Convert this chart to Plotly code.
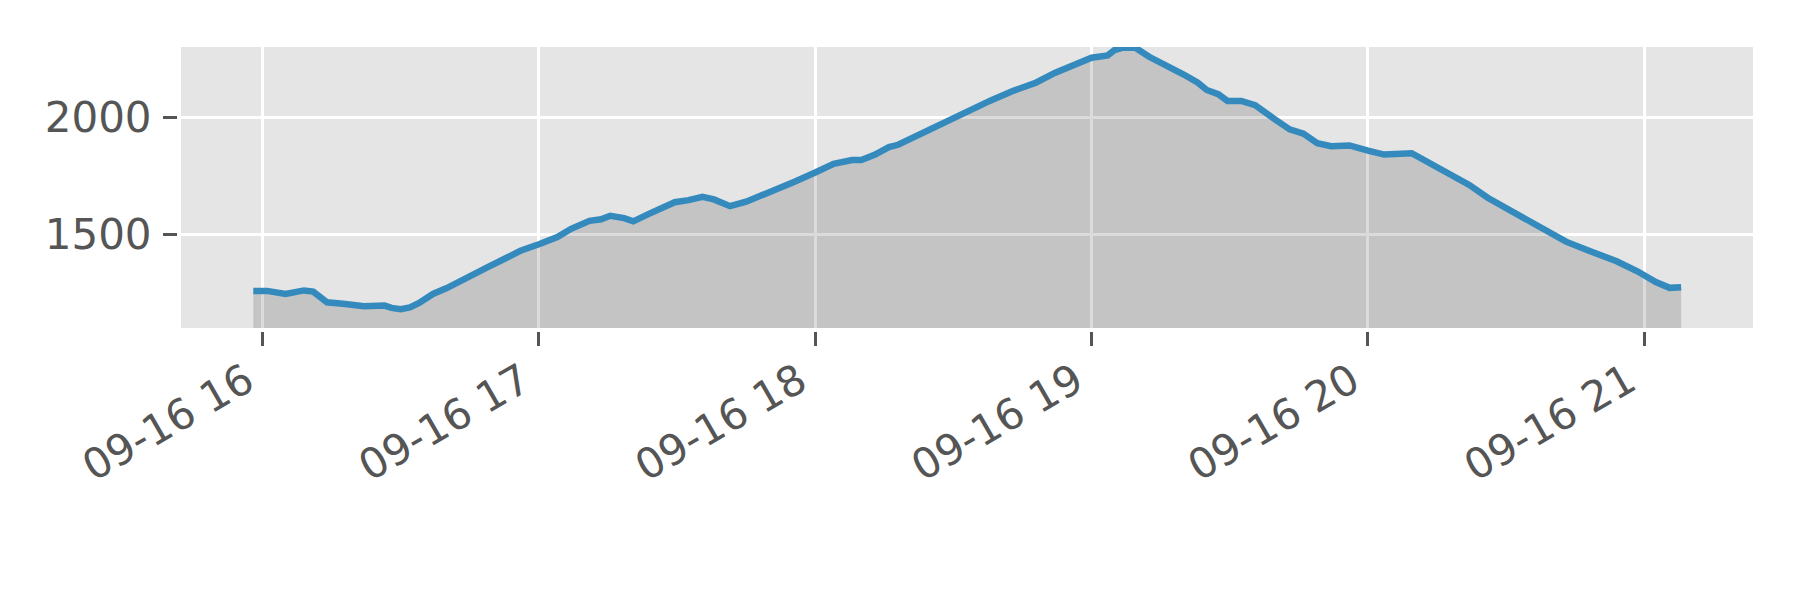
import plotly.graph_objects as go

DAY = "2020-09-16 "
times = [
    "15:58:00", "16:01:00", "16:05:00", "16:09:00", "16:11:00", "16:12:30", "16:14:00",
    "16:18:00", "16:22:00", "16:26:30", "16:28:00", "16:30:00", "16:32:00", "16:34:00",
    "16:37:00", "16:40:00", "16:43:00", "16:48:00", "16:49:00", "16:53:00", "16:56:00",
    "17:00:00", "17:04:00", "17:07:00", "17:11:00", "17:13:30", "17:15:30", "17:18:30",
    "17:20:30", "17:24:00", "17:29:30", "17:32:30", "17:35:30", "17:38:00", "17:41:30",
    "17:45:00", "17:48:00", "17:52:00", "17:55:30", "18:00:00", "18:04:00", "18:08:00",
    "18:10:00", "18:13:00", "18:16:00", "18:18:00", "18:24:00", "18:28:00", "18:33:00",
    "18:38:00", "18:43:00", "18:48:00", "18:52:00", "18:57:00", "19:00:00", "19:03:30",
    "19:05:00", "19:07:00", "19:09:30", "19:12:30", "19:16:30", "19:20:00", "19:23:00",
    "19:25:00", "19:27:30", "19:29:30", "19:32:30", "19:35:30", "19:39:30", "19:43:00",
    "19:46:00", "19:49:00", "19:52:00", "19:56:00", "20:00:00", "20:03:30", "20:09:30",
    "20:13:30", "20:16:00", "20:20:00", "20:22:00", "20:26:00", "20:29:00", "20:33:30",
    "20:38:30", "20:43:00", "20:48:00", "20:54:00", "20:58:30", "21:02:30", "21:05:30",
    "21:08:00",
]
values = [
    1256, 1257, 1244, 1259, 1254, 1230, 1208,
    1201, 1191, 1194, 1184, 1179, 1186, 1205,
    1244, 1269, 1302, 1353, 1360, 1399, 1429,
    1457, 1488, 1523, 1557, 1564, 1579, 1569,
    1555, 1588, 1637, 1646, 1660, 1649, 1620,
    1639, 1663, 1692, 1725, 1764, 1801, 1818,
    1818, 1841, 1873, 1883, 1941, 1974, 2025,
    2072, 2114, 2150, 2191, 2227, 2256, 2266,
    2289, 2300, 2299, 2260, 2223, 2184, 2150,
    2118, 2100, 2071, 2071, 2053, 1996, 1949,
    1931, 1890, 1877, 1880, 1858, 1841, 1847,
    1801, 1776, 1728, 1711, 1656, 1624, 1574,
    1519, 1468, 1429, 1384, 1341, 1295, 1270,
    1273,
]
x_ticks = ["16:00:00", "17:00:00", "18:00:00", "19:00:00", "20:00:00", "21:00:00"]
y_ticks = [1500, 2000]

x = [DAY + t for t in times]

fig = go.Figure()
fig.add_trace(go.Scatter(
    x=x, y=values, mode="lines", fill="tozeroy",
    fillcolor="rgba(0,0,0,0.14)", line=dict(color="#348ABD", width=6.5),
    hoverinfo="x+y", showlegend=False,
))

font = dict(family="DejaVu Sans", size=42, color="#555555")
fig.update_layout(
    width=1800, height=600, autosize=False,
    margin=dict(l=173, r=55, t=39, b=280),
    paper_bgcolor="white", plot_bgcolor="#E5E5E5",
    font=font, showlegend=False,
)
fig.update_xaxes(
    type="date", range=[DAY + "15:42:18", DAY + "21:23:36"],
    tickvals=[DAY + t for t in x_ticks], tickformat="%m-%d %H", tickangle=-30,
    showgrid=True, gridcolor="white", gridwidth=2.7,
    ticks="outside", ticklen=14, tickwidth=2.5, tickcolor="#555555",
    tickfont=font, zeroline=False,
    showline=True, linecolor="white", linewidth=4,
    ticklabelshift=-16, ticklabelstandoff=-6,
)
fig.update_yaxes(
    range=[1098, 2302], tickvals=y_ticks,
    showgrid=True, gridcolor="white", gridwidth=2.7,
    ticks="outside", ticklen=14, tickwidth=2.5, tickcolor="#555555",
    tickfont=font, zeroline=False,
    showline=True, linecolor="white", linewidth=4,
    ticklabelstandoff=3,
)
fig.write_html("out.html")
